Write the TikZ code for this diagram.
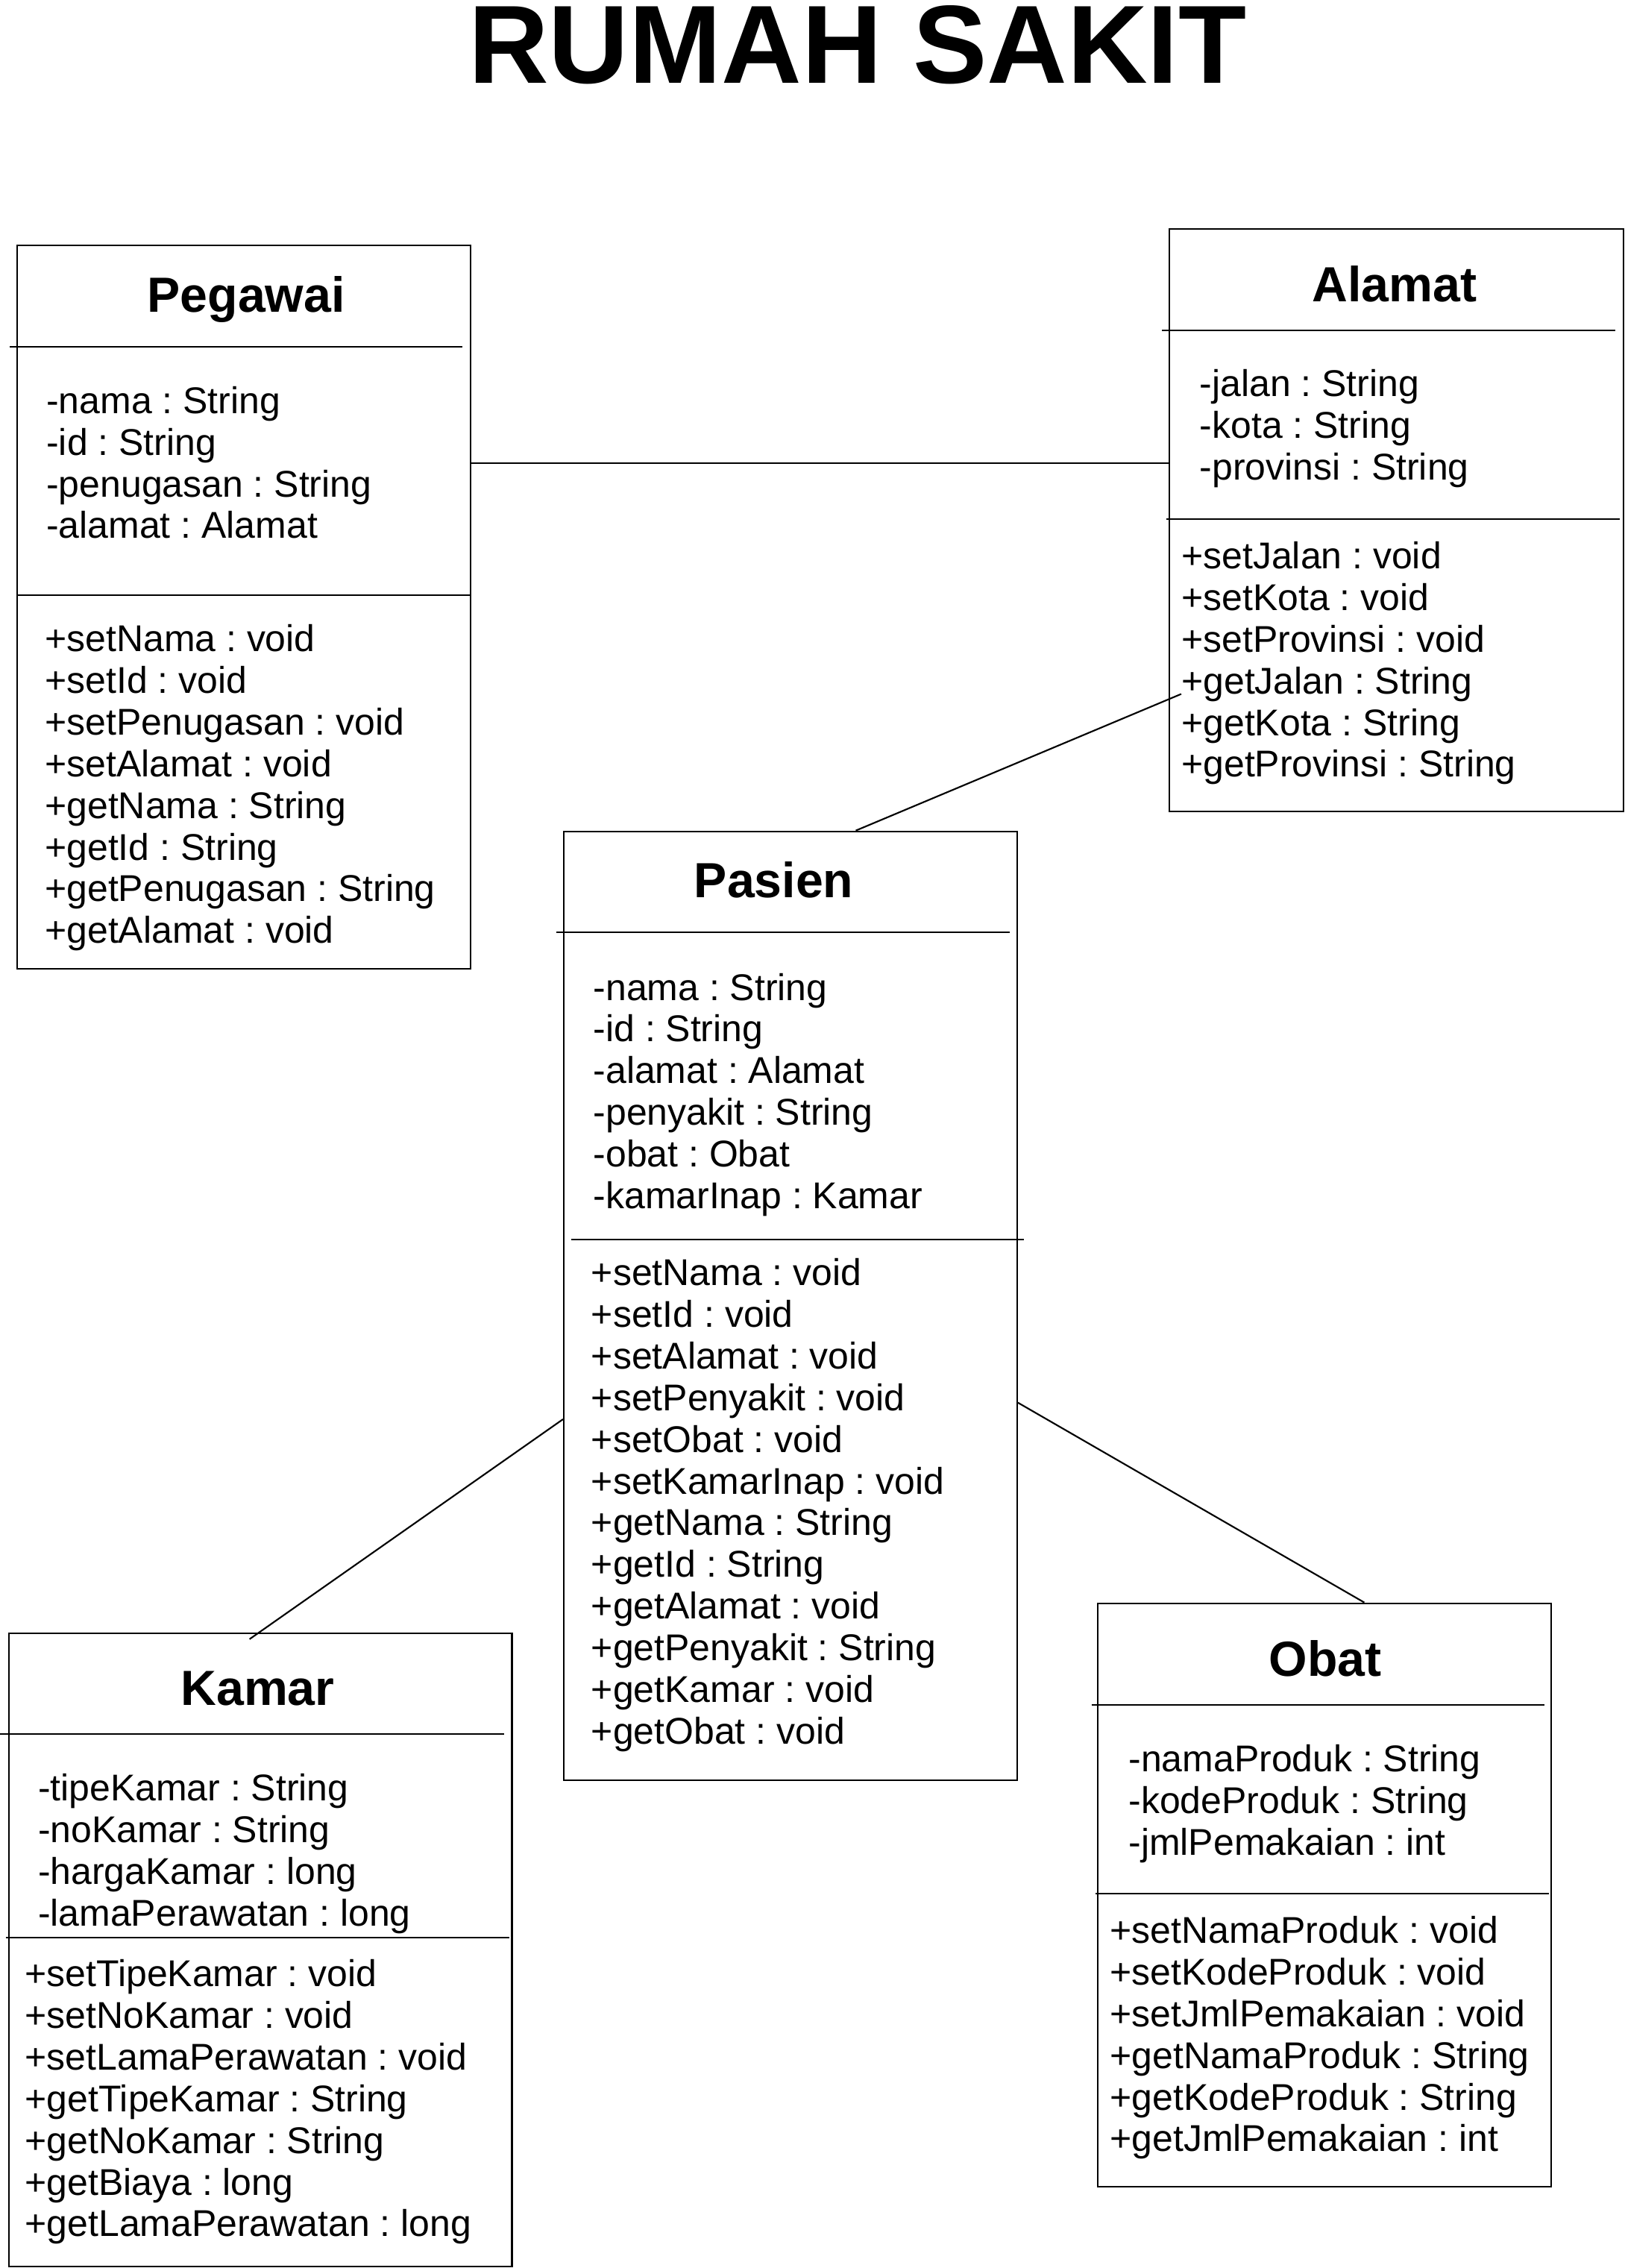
\documentclass[tikz,border=0pt]{standalone}
\usepackage{fontspec}
\setmainfont{Liberation Sans}
\usetikzlibrary{calc,fit}

\newcommand{\memberfont}{\fontsize{12.9}{14.42}\selectfont\frenchspacing}
\newcommand{\classfont}{\fontsize{17.1}{20}\selectfont\bfseries}

\tikzset{
  classbox/.style={draw, line width=0.55pt, inner sep=0pt},
  classname/.style={font=\classfont, anchor=base, inner sep=0pt},
  % anchor sits on the baseline of the last line
  members/.style={font=\memberfont, align=left, anchor=base west, inner sep=0pt},
  link/.style={line width=0.55pt}
}

\begin{document}
\begin{tikzpicture}[x=0.5pt, y=-0.5pt]
  \useasboundingbox (0,0) rectangle (1125.5,1570.8);

  % title
  \node[font=\fontsize{38.5}{44}\selectfont\bfseries, anchor=base, inner sep=0pt] (judul) at (594,57.5) {RUMAH SAKIT};

  % Pegawai
  \coordinate (pg1) at (12,170);
  \coordinate (pg2) at (325.8,671);
  \node[classbox, fit=(pg1)(pg2)] (pegawai) {};
  \draw[link] (6.9,240) -- (320.5,240);
  \draw[link] (12,412.4) -- (325.8,412.4);
  \node[classname] (pegawai-name) at (170.5,216.2) {Pegawai};
  \node[members] (pegawai-attr) at (31.8,372.9) {-nama : String\\-id : String\\-penugasan : String\\-alamat : Alamat};
  \node[members] (pegawai-ops) at (30.8,653.3) {+setNama : void\\+setId : void\\+setPenugasan : void\\+setAlamat : void\\+getNama : String\\+getId : String\\+getPenugasan : String\\+getAlamat : void};

  % Alamat
  \coordinate (al1) at (810,158.4);
  \coordinate (al2) at (1124.5,561.8);
  \node[classbox, fit=(al1)(al2)] (alamat) {};
  \draw[link] (805,228.7) -- (1119,228.7);
  \draw[link] (808,359.5) -- (1122,359.5);
  \node[classname] (alamat-name) at (966,208.7) {Alamat};
  \node[members] (alamat-attr) at (830.6,332.3) {-jalan : String\\-kota : String\\-provinsi : String};
  \node[members] (alamat-ops) at (818,538.2) {+setJalan : void\\+setKota : void\\+setProvinsi : void\\+getJalan : String\\+getKota : String\\+getProvinsi : String};

  % Pasien
  \coordinate (ps1) at (390.5,575.8);
  \coordinate (ps2) at (704.5,1233);
  \node[classbox, fit=(ps1)(ps2)] (pasien) {};
  \draw[link] (385.5,645.7) -- (699.4,645.7);
  \draw[link] (395.5,858.3) -- (709,858.3);
  \node[classname] (pasien-name) at (536,621.9) {Pasien};
  \node[members] (pasien-attr) at (410.6,836.9) {-nama : String\\-id : String\\-alamat : Alamat\\-penyakit : String\\-obat : Obat\\-kamarInap : Kamar};
  \node[members] (pasien-ops) at (409.2,1207.7) {+setNama : void\\+setId : void\\+setAlamat : void\\+setPenyakit : void\\+setObat : void\\+setKamarInap : void\\+getNama : String\\+getId : String\\+getAlamat : void\\+getPenyakit : String\\+getKamar : void\\+getObat : void};

  % Kamar
  \coordinate (km1) at (6.2,1131);
  \coordinate (km2) at (354.6,1569.9);
  \node[classbox, fit=(km1)(km2)] (kamar) {};
  \draw[link] (0,1201) -- (349,1201);
  \draw[link] (4,1341.8) -- (352.8,1341.8);
  \node[classname] (kamar-name) at (178.5,1181) {Kamar};
  \node[members] (kamar-attr) at (26,1333.9) {-tipeKamar : String\\-noKamar : String\\-hargaKamar : long\\-lamaPerawatan : long};
  \node[members] (kamar-ops) at (17,1549) {+setTipeKamar : void\\+setNoKamar : void\\+setLamaPerawatan : void\\+getTipeKamar : String\\+getNoKamar : String\\+getBiaya : long\\+getLamaPerawatan : long};

  % Obat
  \coordinate (ob1) at (760.5,1110.4);
  \coordinate (ob2) at (1074.5,1514.3);
  \node[classbox, fit=(ob1)(ob2)] (obat) {};
  \draw[link] (756,1180.6) -- (1069.7,1180.6);
  \draw[link] (759,1311.6) -- (1072.8,1311.6);
  \node[classname] (obat-name) at (918,1160.8) {Obat};
  \node[members] (obat-attr) at (781.4,1284.7) {-namaProduk : String\\-kodeProduk : String\\-jmlPemakaian : int};
  \node[members] (obat-ops) at (768.5,1490.2) {+setNamaProduk : void\\+setKodeProduk : void\\+setJmlPemakaian : void\\+getNamaProduk : String\\+getKodeProduk : String\\+getJmlPemakaian : int};

  % associations
  \coordinate (pg-al) at ($(pegawai.north east)+(0,151.1)$);
  \draw[link] (pg-al) -- (pg-al -| alamat.west);
  \coordinate (al-ps) at ($(alamat.north west)+(8.7,322.8)$);
  \draw[link] (al-ps) -- ($(pasien.north west)+(202.8,0)$);
  \coordinate (km-ps) at ($(kamar.north west)+(167.2,4.8)$);
  \draw[link] ($(pasien.north west)+(0,407.7)$) -- (km-ps);
  \draw[link] ($(pasien.north east)+(0,396.2)$) -- ($(obat.north west)+(185,0)$);
\end{tikzpicture}
\end{document}
